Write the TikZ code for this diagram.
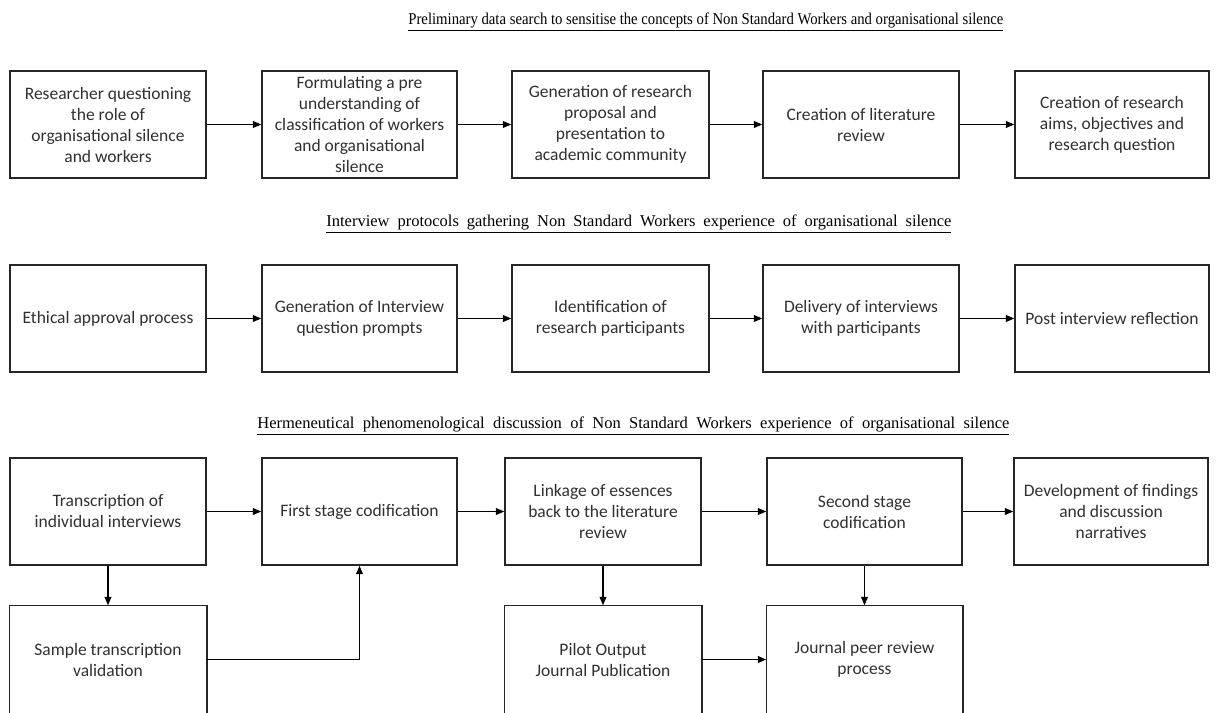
\documentclass[tikz,border=0pt]{standalone}
\usepackage{fontspec}
\usepackage{graphicx}
\setmainfont{Carlito}
\newfontfamily\titlefont{Liberation Serif}
\usetikzlibrary{arrows.meta}
\definecolor{txt}{HTML}{303030}
\definecolor{edge}{HTML}{262626}
\begin{document}
\begin{tikzpicture}[x=0.5pt,y=-0.5pt,
  bx/.style={draw=edge, line width=0.75pt, minimum height=53.5pt, inner sep=0pt, align=center, text=txt, font=\fontsize{8.75}{10.5}\selectfont},
  openbx/.style={bx, draw=none},
  rim/.style={draw=edge, line width=0.75pt},
  arr/.style={line width=0.6pt, draw=black, -{Triangle[length=4.2pt,width=3.4pt]}},
  ttl/.style={anchor=base west, inner sep=0pt, text=black, font=\titlefont\fontsize{8.25}{10}\selectfont}]
\useasboundingbox (0,0) rectangle (1217,713);
\clip (0,0) rectangle (1217,713);

% titles
\node[ttl] (t1) at (408,24) {\underline{\resizebox{297.5pt}{\height}{Preliminary data search to sensitise the concepts of Non Standard Workers and organisational silence}}};
\node[ttl] (t2) at (326,226) {\underline{\makebox[312.5pt][s]{Interview protocols gathering Non Standard Workers experience of organisational silence}}};
\node[ttl] (t3) at (257,428) {\underline{\makebox[376pt][s]{Hermeneutical phenomenological discussion of Non Standard Workers experience of organisational silence}}};

% row 1
\node[bx, minimum width=98pt]   (a1) at (108,124.5)   {Researcher questioning\\the role of\\organisational silence\\and workers};
\node[bx, minimum width=97.5pt] (a2) at (359.5,124.5) {Formulating a pre\\understanding of\\classification of workers\\and organisational\\silence};
\node[bx, minimum width=98.5pt] (a3) at (610.5,124.5) {Generation of research\\proposal and\\presentation to\\academic community};
\node[bx, minimum width=98pt]   (a4) at (861,124.5)   {Creation of literature\\review};
\node[bx, minimum width=97pt]   (a5) at (1112,124.5)  {Creation of research\\aims, objectives and\\research question};

% row 2
\node[bx, minimum width=98pt]   (b1) at (108,318.5)   {Ethical approval process};
\node[bx, minimum width=97.5pt] (b2) at (359.5,318.5) {Generation of Interview\\question prompts};
\node[bx, minimum width=98.5pt] (b3) at (610.5,318.5) {Identification of\\research participants};
\node[bx, minimum width=98pt]   (b4) at (861,318.5)   {Delivery of interviews\\with participants};
\node[bx, minimum width=97pt]   (b5) at (1112,318.5)  {Post interview reflection};

% row 3
\node[bx, minimum width=98pt]   (c1) at (108,511.5)   {Transcription of\\individual interviews};
\node[bx, minimum width=97.5pt] (c2) at (359.5,511.5) {First stage codification};
\node[bx, minimum width=98pt]   (c3) at (603,511.5)   {Linkage of essences\\back to the literature\\review};
\node[bx, minimum width=97.5pt] (c4) at (864.5,511.5) {Second stage\\codification};
\node[bx, minimum width=97pt]   (c5) at (1111,511.5)  {Development of findings\\and discussion\\narratives};

% row 4 (cut off at the bottom edge)
\node[openbx, minimum width=98pt]   (d1) at (108,659.5)   {Sample transcription\\validation};
\node[openbx, minimum width=98pt]   (d3) at (603,659.5)   {Pilot Output\\Journal Publication};
\node[openbx, minimum width=97.5pt] (d4) at (864.5,659.5) {Journal peer review\\process};
\foreach \n in {d1,d3,d4}{
  \draw[rim] ([yshift=-10pt]\n.south west) -- (\n.north west) -- (\n.north east) -- ([yshift=-10pt]\n.south east);
}

% connectors
\draw[arr] (a1) -- (a2);
\draw[arr] (a2) -- (a3);
\draw[arr] (a3) -- (a4);
\draw[arr] (a4) -- (a5);
\draw[arr] (b1) -- (b2);
\draw[arr] (b2) -- (b3);
\draw[arr] (b3) -- (b4);
\draw[arr] (b4) -- (b5);
\draw[arr] (c1) -- (c2);
\draw[arr] (c2) -- (c3);
\draw[arr] (c3) -- (c4);
\draw[arr] (c4) -- (c5);
\draw[arr] (c1) -- (d1);
\draw[arr] (c3) -- (d3);
\draw[arr] (c4) -- (d4);
\draw[arr] (d1.east) -| (c2.south);
\draw[arr] (d3) -- (d4);
\end{tikzpicture}
\end{document}
